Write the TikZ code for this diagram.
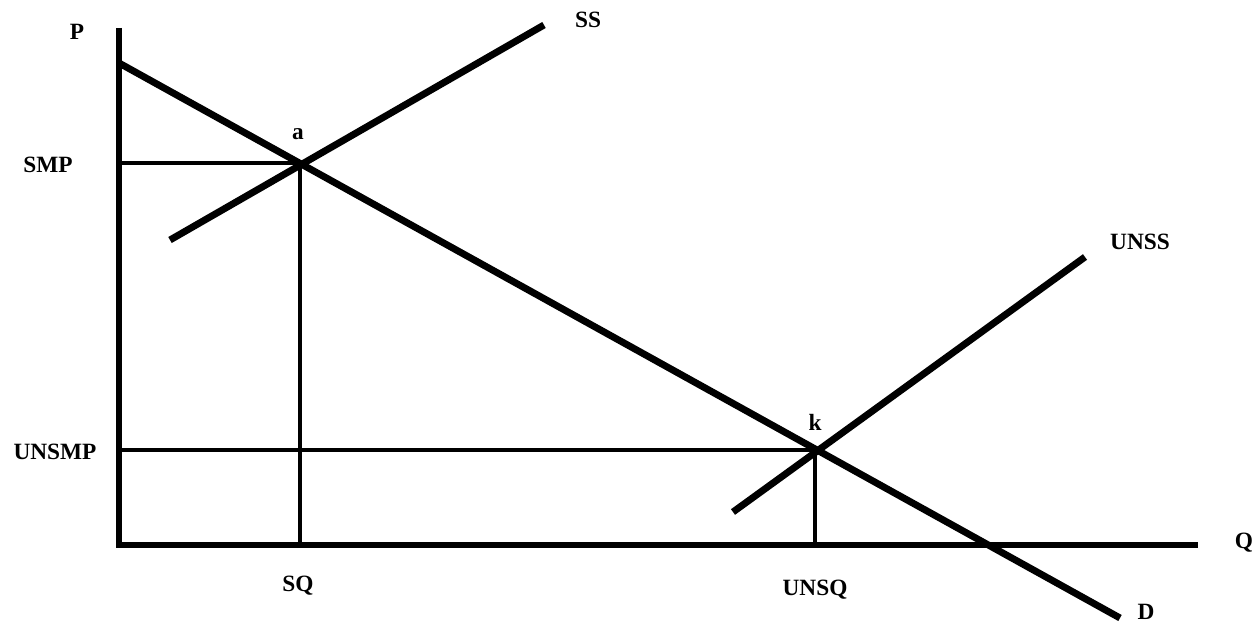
\documentclass[tikz,border=0pt]{standalone}
\usepackage{fontspec}
\setmainfont{Liberation Serif}
\begin{document}
\begin{tikzpicture}[x=0.75pt,y=-0.75pt,
  thickline/.style={line width=5.2pt,line cap=butt},
  thinline/.style={line width=2.6pt},
  lbl/.style={font=\fontsize{17.5}{20}\selectfont\bfseries,inner sep=0pt}]
\useasboundingbox (0,0) rectangle (1260,624);
% coordinates
\coordinate (O) at (119,545);
\coordinate (Ptop) at (119,28);
\coordinate (Qend) at (1198,545);
\coordinate (Dstart) at (119,63);
\coordinate (Dend) at (1120,618);
\coordinate (SSstart) at (170,240);
\coordinate (SSend) at (544,25);
\coordinate (UNSSstart) at (733,512);
\coordinate (UNSSend) at (1085,257);
\coordinate (a) at (300,163);
\coordinate (k) at (815,450);
\coordinate (SMPy) at (119,163);
\coordinate (UNSMPy) at (119,450);
\coordinate (SQx) at (300,545);
\coordinate (UNSQx) at (815,545);
% thin guide lines
\draw[thinline] (SMPy) -- (a);
\draw[thinline] (a) -- (SQx);
\draw[thinline] (UNSMPy) -- (k);
\draw[thinline] (k) -- (UNSQx);
% axes
\draw[thickline] (Ptop) -- (O) -- (Qend);
% curves
\draw[thickline] (Dstart) -- (Dend);
\draw[thickline] (SSstart) -- (SSend);
\draw[thickline] (UNSSstart) -- (UNSSend);
% labels
\node[lbl] (lP) at (77,32) {P};
\node[lbl] (lSS) at (588,20) {SS};
\node[lbl] (la) at (298,134) {a};
\node[lbl] (lSMP) at (48,165) {SMP};
\node[lbl] (lUNSS) at (1140,242) {UNSS};
\node[lbl] (lk) at (815,422) {k};
\node[lbl] (lUNSMP) at (55,452) {UNSMP};
\node[lbl] (lQ) at (1244,543) {Q};
\node[lbl] (lSQ) at (298,586) {SQ};
\node[lbl] (lUNSQ) at (815,590) {UNSQ};
\node[lbl] (lD) at (1146,612) {D};
\end{tikzpicture}
\end{document}
